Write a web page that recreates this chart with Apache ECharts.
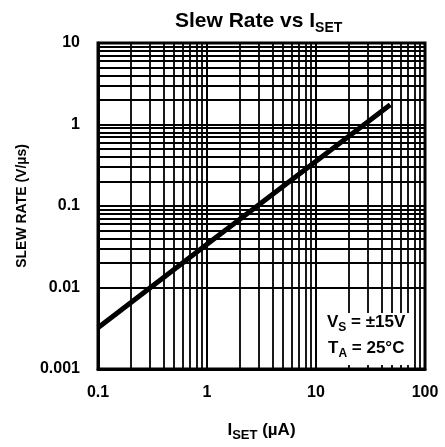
<!DOCTYPE html>
<html><head><meta charset="utf-8">
<script src="https://cdn.jsdelivr.net/npm/echarts@6/dist/echarts.min.js"></script>
<style>html,body{margin:0;padding:0;background:#fff}#c{width:445px;height:447px}</style>
</head><body><div id="c"></div>
<script>
// Data (log-log, straight line)
const isetValues = [0.1, 1, 48];          // I_SET (µA)
const slewRateValues = [0.0032, 0.034, 1.75]; // Slew rate (V/µs)
const xTickLabels = ['0.1', '1', '10', '100'];
const yTickLabels = ['0.001', '0.01', '0.1', '1', '10'];
const xDecades = [0.1, 1, 10];
const yDecades = [0.001, 0.01, 0.1, 1];
const minorSteps = [2, 3, 4, 5, 6, 7, 8, 9];

const FONT = '"Liberation Sans", Arial, sans-serif';

const xMinor = [];
xDecades.forEach(d => minorSteps.forEach(m => xMinor.push(+(d * m).toPrecision(3))));
const yMinor = [];
yDecades.forEach(d => minorSteps.forEach(m => yMinor.push(+(d * m).toPrecision(3))));

function labelFor(v, labels) {
  const e = Math.round(Math.log10(v));
  for (const l of labels) { if (Math.round(Math.log10(parseFloat(l))) === e) return l; }
  return '';
}

const chart = echarts.init(document.getElementById('c'), null, {renderer: 'canvas'});
const subRich = {
  b: {fontFamily: FONT, fontWeight: 'bold', fontSize: 17, color: '#000', verticalAlign: 'top', lineHeight: 17},
  s: {fontFamily: FONT, fontWeight: 'bold', fontSize: 12, color: '#000', verticalAlign: 'top', lineHeight: 12, padding: [8, 0, 0, 0]}
};

chart.setOption({
  animation: false,
  backgroundColor: '#fff',
  title: {
    text: '{b|Slew Rate vs I}{s|SET}',
    left: 170, top: 6,
    textStyle: {
      rich: {
        b: {fontFamily: FONT, fontWeight: 'bold', fontSize: 21, color: '#000', verticalAlign: 'top', lineHeight: 21},
        s: {fontFamily: FONT, fontWeight: 'bold', fontSize: 14, color: '#000', verticalAlign: 'top', lineHeight: 14, padding: [10, 0, 0, 0]}
      }
    }
  },
  grid: {left: 98, right: 20, top: 43, bottom: 75, show: true, borderColor: '#000', borderWidth: 3},
  xAxis: {
    type: 'log', logBase: 10, min: 0.1, max: 100,
    name: '{b|I}{s|SET}{b| (µA)}', nameLocation: 'middle', nameGap: 53,
    nameTextStyle: {rich: {
      b: {fontFamily: FONT, fontWeight: 'bold', fontSize: 17, color: '#000', verticalAlign: 'top', lineHeight: 17},
      s: {fontFamily: FONT, fontWeight: 'bold', fontSize: 13, color: '#000', verticalAlign: 'top', lineHeight: 13, padding: [7, 0, 0, 0]}
    }},
    axisLine: {show: true, lineStyle: {color: '#000', width: 3}},
    axisTick: {show: false},
    axisLabel: {fontFamily: FONT, fontWeight: 'bold', fontSize: 16, color: '#000', margin: 16,
      formatter: v => labelFor(v, xTickLabels)},
    splitLine: {show: true, lineStyle: {color: '#000', width: 2}}
  },
  yAxis: {
    type: 'log', logBase: 10, min: 0.001, max: 10,
    name: 'SLEW RATE (V/µs)', nameLocation: 'middle', nameGap: 66, nameRotate: 90,
    nameTextStyle: {fontFamily: FONT, fontWeight: 'bold', fontSize: 14, color: '#000'},
    axisLine: {show: true, lineStyle: {color: '#000', width: 3}},
    axisTick: {show: false},
    axisLabel: {fontFamily: FONT, fontWeight: 'bold', fontSize: 16, color: '#000', margin: 18,
      formatter: v => labelFor(v, yTickLabels)},
    splitLine: {show: true, lineStyle: {color: '#000', width: 2}}
  },
  graphic: [
    {type: 'rect', z: 100, shape: {x: 322, y: 313, width: 88, height: 52}, style: {fill: '#fff'}},
    {type: 'text', z: 101, x: 327, y: 314, style: {text: '{b|V}{s|S}{b| = ±15V}', rich: subRich}},
    {type: 'text', z: 101, x: 328, y: 340, style: {text: '{b|T}{s|A}{b| = 25°C}', rich: subRich}}
  ],
  series: [
    {
      type: 'line', data: [], silent: true, z: 1,
      markLine: {
        silent: true, symbol: 'none', animation: false,
        label: {show: false},
        lineStyle: {color: '#000', width: 1.8, type: 'solid'},
        data: xMinor.map(v => ({xAxis: v})).concat(yMinor.map(v => ({yAxis: v})))
      }
    },
    {
      type: 'line', z: 10, symbol: 'none', smooth: false,
      lineStyle: {color: '#000', width: 5},
      data: isetValues.map((x, i) => [x, slewRateValues[i]])
    }
  ]
});
</script></body></html>
